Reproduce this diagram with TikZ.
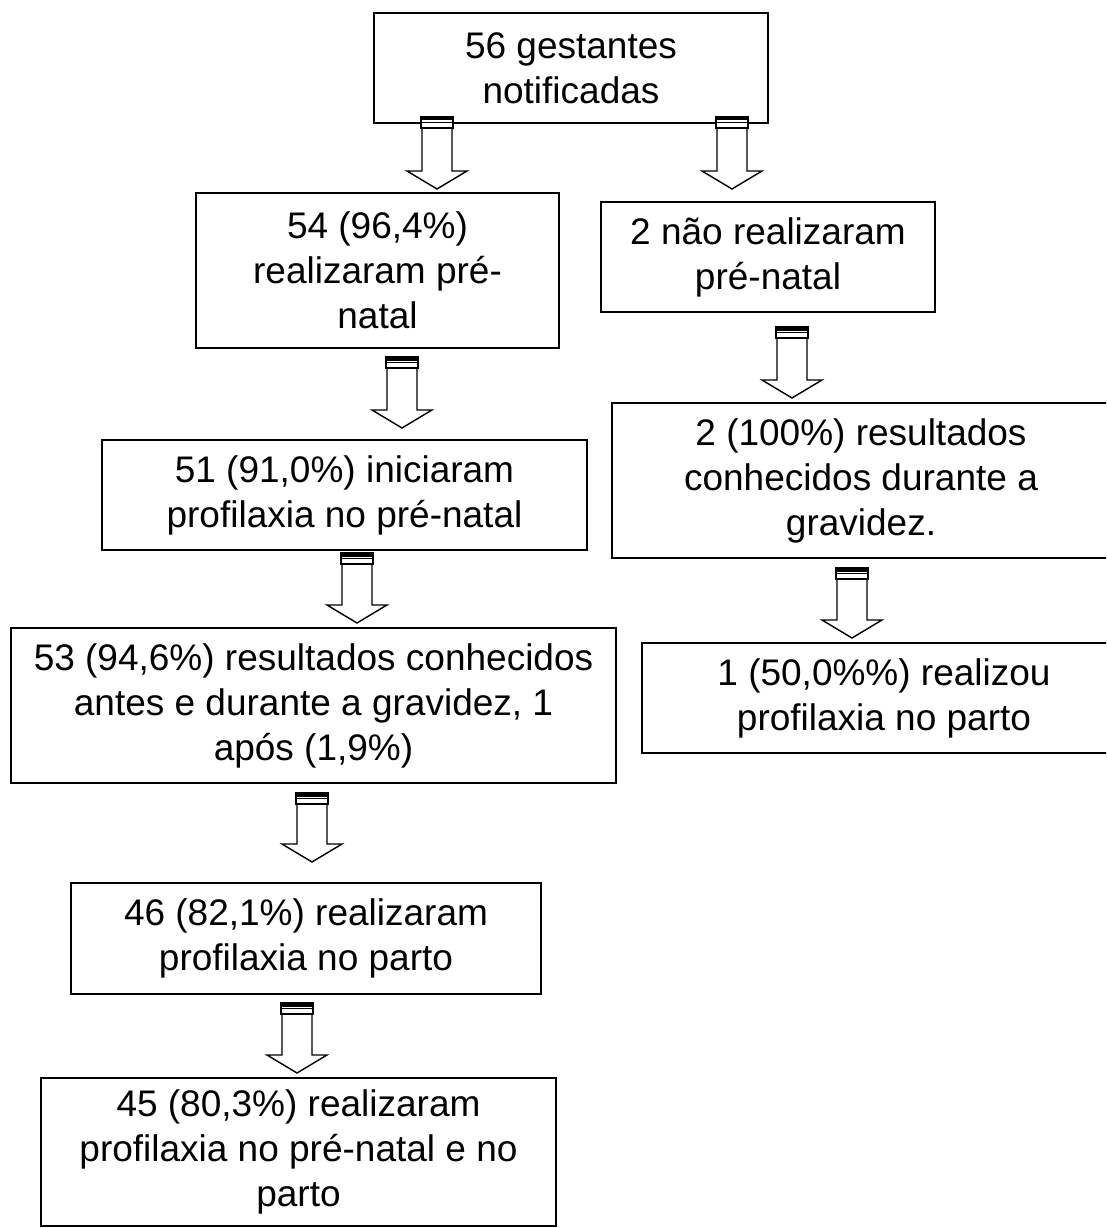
\documentclass[tikz,border=0pt]{standalone}
\usepackage{fontspec}
\setmainfont{Liberation Sans}
\usetikzlibrary{calc}

% hollow block arrow: source, target, x position, offset below source, gap above target
\newcommand{\blockArrow}[5]{%
  \path (#3,0 |- #1.south) ++(0,#4) coordinate (arrowTop)
        (#3,0 |- #2.north) ++(0,-#5) coordinate (arrowTip);
  \draw[arrowLine] let \p1=(arrowTop), \p2=(arrowTip) in
    ({\x1-15pt},{\y1-11pt}) -- ({\x1-15pt},{\y2+18pt}) -- ({\x1-30pt},{\y2+18pt})
    -- (\x1,\y2) -- ({\x1+30pt},{\y2+18pt}) -- ({\x1+15pt},{\y2+18pt})
    -- ({\x1+15pt},{\y1-11pt}) -- cycle;
  \draw[arrowLine] let \p1=(arrowTop) in
    ({\x1-16pt},\y1) rectangle ({\x1+16pt},{\y1-11pt})
    ({\x1-16pt},{\y1-5.5pt}) -- ({\x1+16pt},{\y1-5.5pt});
  \fill let \p1=(arrowTop) in ({\x1-16pt},\y1) rectangle ({\x1+16pt},{\y1-3.5pt});
}

\tikzset{
  flowBox/.style={draw, line width=1.8pt, rectangle, align=center, inner sep=0pt,
    outer sep=0pt, font=\fontsize{37}{45}\selectfont},
  arrowLine/.style={line width=1.4pt, fill=white}
}

\begin{document}
\begin{tikzpicture}[x=1pt, y=-1pt]
    \useasboundingbox (0,0) rectangle (1106,1228);
    \fill[white] (0,0) rectangle (1106,1228);
    \clip (0,0) rectangle (1106,1228);

    \node[flowBox, minimum width=394, minimum height=110] (notified) at (571,68) {56 gestantes\\notificadas};
    \node[flowBox, minimum width=363, minimum height=155] (prenatal) at (377.5,270.5) {54 (96,4\%)\\realizaram pré-\\natal};
    \node[flowBox, minimum width=334, minimum height=110] (noPrenatal) at (768,257) {2 não realizaram\\pré-natal};
    \node[flowBox, minimum width=498, minimum height=155] (knownDuring) at (861,480.5) {2 (100\%) resultados\\conhecidos durante a\\gravidez.};
    \node[flowBox, minimum width=485, minimum height=110] (startedProphylaxis) at (344.5,495) {51 (91,0\%) iniciaram\\profilaxia no pré-natal};
    \node[flowBox, minimum width=605, minimum height=155] (knownBefore) at (313.5,705.5) {53 (94,6\%) resultados conhecidos\\antes e durante a gravidez, 1\\após (1,9\%)};
    \node[flowBox, minimum width=484, minimum height=110] (oneDelivery) at (884,698) {1 (50,0\%\%) realizou\\profilaxia no parto};
    \node[flowBox, minimum width=470, minimum height=111] (deliveryProphylaxis) at (306,938.5) {46 (82,1\%) realizaram\\profilaxia no parto};
    \node[flowBox, minimum width=515, minimum height=148] (bothProphylaxis) at (298.5,1152) {45 (80,3\%) realizaram\\profilaxia no pré-natal e no\\parto};

    \blockArrow{notified}{prenatal}{437}{-6}{4}
    \blockArrow{notified}{noPrenatal}{732}{-6}{13}
    \blockArrow{prenatal}{startedProphylaxis}{402}{9}{12}
    \blockArrow{noPrenatal}{knownDuring}{792}{15}{5}
    \blockArrow{startedProphylaxis}{knownBefore}{357}{3}{5}
    \blockArrow{knownDuring}{oneDelivery}{852}{10}{5}
    \blockArrow{knownBefore}{deliveryProphylaxis}{312}{10}{21}
    \blockArrow{deliveryProphylaxis}{bothProphylaxis}{297}{9}{5}

\end{tikzpicture}
\end{document}
